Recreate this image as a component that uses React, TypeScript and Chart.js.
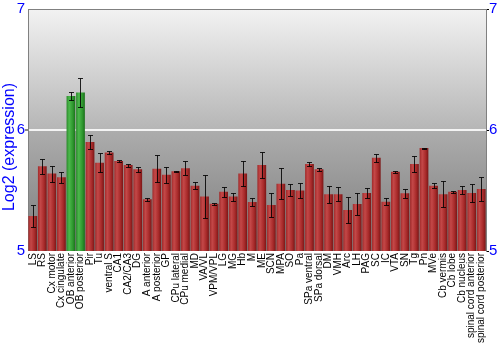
import React, { useEffect, useRef } from "react";
import { Chart, registerables } from "chart.js";

Chart.register(...registerables);

const categories = [
  "LS", "RS", "Cx motor", "Cx cingulate", "OB anterior", "OB posterior", "Pir", "Tu",
  "ventral S", "CA1", "CA2/CA3", "DG", "A anterior", "A posterior", "GP", "CPu lateral",
  "CPu medial", "MD", "VA/VL", "VPM/VPL", "LG", "MG", "Hb", "M", "ME", "SCN", "MPA",
  "SO", "Pa", "SPa ventral", "SPa dorsal", "DM", "VMH", "Arc", "LH", "PAG", "SC", "IC",
  "VTA", "SN", "Tg", "Pn", "MVe", "Cb vermis", "Cb lobe", "Cb nucleus",
  "spinal cord anterior", "spinal cord posterior",
];

const values = [
  5.29, 5.70, 5.64, 5.61, 6.28, 6.31, 5.90, 5.73,
  5.815, 5.744, 5.71, 5.675, 5.427, 5.68, 5.63, 5.66,
  5.683, 5.54, 5.45, 5.39, 5.49, 5.45, 5.64, 5.405, 5.71, 5.38, 5.556,
  5.504, 5.50, 5.72, 5.675, 5.468, 5.47, 5.339, 5.388, 5.48, 5.77, 5.408,
  5.655, 5.477, 5.72, 5.851, 5.54, 5.47, 5.49, 5.504,
  5.48, 5.512,
];

const errors = [
  0.09, 0.06, 0.066, 0.047, 0.03, 0.12, 0.056, 0.08,
  0.01, 0.005, 0.012, 0.02, 0.015, 0.11, 0.068, 0.005,
  0.058, 0.03, 0.176, 0.01, 0.04, 0.033, 0.10, 0.033, 0.11, 0.098, 0.13,
  0.047, 0.066, 0.014, 0.012, 0.073, 0.06, 0.107, 0.09, 0.04, 0.032, 0.028,
  0.01, 0.038, 0.063, 0.004, 0.02, 0.11, 0.008, 0.036,
  0.077, 0.096,
];

const highlighted = ["OB anterior", "OB posterior"];

const yTicks = [5, 6, 7];

const yTitle = "Log2 (expression)";

const CAT_PCT = 0.92;

export default function App() {
  const ref = useRef<HTMLCanvasElement | null>(null);

  useEffect(() => {
    document.body.style.margin = "0";
    const canvas = ref.current;
    if (!canvas) return;

    const font = "'Liberation Sans', Arial, sans-serif";

    const bgPlugin = {
      id: "bgGrad",
      beforeDraw(chart: any) {
        const { ctx, chartArea } = chart;
        if (!chartArea) return;
        const { left, top, right, bottom } = chartArea;
        const g = ctx.createLinearGradient(0, top, 0, bottom);
        g.addColorStop(0, "#f2f2f2");
        g.addColorStop(0.495, "#b6b6b6");
        g.addColorStop(0.505, "#acacac");
        g.addColorStop(1, "#7c7c7c");
        ctx.save();
        ctx.fillStyle = g;
        ctx.fillRect(left, top, right - left, bottom - top);
        ctx.restore();
      },
      afterDraw(chart: any) {
        const { ctx, chartArea } = chart;
        const { left, top, right, bottom } = chartArea;
        ctx.save();
        ctx.strokeStyle = "#808080";
        ctx.lineWidth = 1;
        ctx.beginPath();
        ctx.moveTo(left, Math.round(top) + 0.5);
        ctx.lineTo(right, Math.round(top) + 0.5);
        ctx.stroke();
        // axis title
        ctx.translate(10, (top + bottom) / 2 + 17);
        ctx.rotate(-Math.PI / 2);
        ctx.fillStyle = "#0000ff";
        ctx.font = `16px ${font}`;
        ctx.textAlign = "center";
        ctx.textBaseline = "middle";
        ctx.fillText(yTitle, 0, 0);
        ctx.restore();
      },
    };

    const errPlugin = {
      id: "errBars",
      afterDatasetsDraw(chart: any) {
        const { ctx } = chart;
        const meta = chart.getDatasetMeta(0);
        const ys = chart.scales.y;
        ctx.save();
        ctx.strokeStyle = "rgba(0,0,0,0.85)";
        ctx.lineWidth = 1;
        meta.data.forEach((bar: any, i: number) => {
          const x = Math.round(bar.x) + 0.5;
          const y1 = Math.round(ys.getPixelForValue(values[i] + errors[i])) + 0.5;
          const y2 = Math.round(ys.getPixelForValue(values[i] - errors[i])) + 0.5;
          ctx.beginPath();
          ctx.moveTo(x, y1);
          ctx.lineTo(x, y2);
          ctx.moveTo(x - 2.5, y1);
          ctx.lineTo(x + 2.5, y1);
          ctx.moveTo(x - 2.5, y2);
          ctx.lineTo(x + 2.5, y2);
          ctx.stroke();
        });
        ctx.restore();
      },
    };

    const barColor = (c: any) => {
      const chart = c.chart;
      const green = highlighted.includes(categories[c.dataIndex]);
      const xs = chart.scales && chart.scales.x;
      if (!chart.chartArea || !xs) return green ? "#30a030" : "#b03030";
      const pitch = (xs.right - xs.left) / categories.length;
      const w = pitch * CAT_PCT;
      const cx = xs.getPixelForValue(c.dataIndex);
      const g = chart.ctx.createLinearGradient(cx - w / 2, 0, cx + w / 2, 0);
      if (green) {
        g.addColorStop(0, "#2a8a2a");
        g.addColorStop(0.3, "#4cb84c");
        g.addColorStop(0.7, "#2f992f");
        g.addColorStop(1, "#1a6e1a");
      } else {
        g.addColorStop(0, "#a02a2a");
        g.addColorStop(0.3, "#c44848");
        g.addColorStop(0.7, "#a82a2a");
        g.addColorStop(1, "#7a1616");
      }
      return g;
    };

    const chart = new Chart(canvas, {
      type: "bar",
      data: {
        labels: categories,
        datasets: [
          {
            data: values,
            backgroundColor: barColor,
            borderWidth: 0,
            categoryPercentage: CAT_PCT,
            barPercentage: 1,
          },
        ],
      },
      options: {
        animation: false,
        responsive: false,
        maintainAspectRatio: false,
        layout: { padding: 0 },
        plugins: {
          legend: { display: false },
          tooltip: { enabled: false },
        },
        scales: {
          x: {
            grid: { display: false, drawTicks: false },
            border: { display: false },
            ticks: {
              autoSkip: false,
              minRotation: 90,
              maxRotation: 90,
              padding: 2,
              color: "#000",
              font: { family: font, size: 10 },
            },
            afterFit(s: any) {
              s.height = 99;
            },
          },
          y: {
            position: "left",
            min: 5,
            max: 7,
            afterBuildTicks(s: any) {
              s.ticks = yTicks.map((v) => ({ value: v }));
            },
            grid: {
              color: (c: any) => (c.tick && c.tick.value === 6 ? "rgba(255,255,255,0.85)" : "rgba(0,0,0,0)"),
              lineWidth: (c: any) => (c.tick && c.tick.value === 6 ? 2 : 0),
              tickColor: "#888",
              tickLength: 3,
            },
            border: { display: true, color: "#808080", width: 1 },
            ticks: {
              padding: 0,
              color: "#0000ff",
              font: { family: font, size: 15 },
            },
            afterFit(s: any) {
              s.width = 28;
            },
          },
          y2: {
            position: "right",
            min: 5,
            max: 7,
            afterBuildTicks(s: any) {
              s.ticks = yTicks.map((v) => ({ value: v }));
            },
            grid: { drawOnChartArea: false, tickColor: "#000", tickLength: 3 },
            border: { display: true, color: "#808080", width: 1 },
            ticks: {
              padding: 0,
              color: "#0000ff",
              font: { family: font, size: 15 },
            },
            afterFit(s: any) {
              s.width = 14;
            },
          },
        },
      },
      plugins: [bgPlugin, errPlugin],
    });

    return () => chart.destroy();
  }, []);

  return (
    <div style={{ width: 500, height: 350 }}>
      <canvas ref={ref} width={500} height={350} style={{ width: 500, height: 350, display: "block" }} />
    </div>
  );
}
